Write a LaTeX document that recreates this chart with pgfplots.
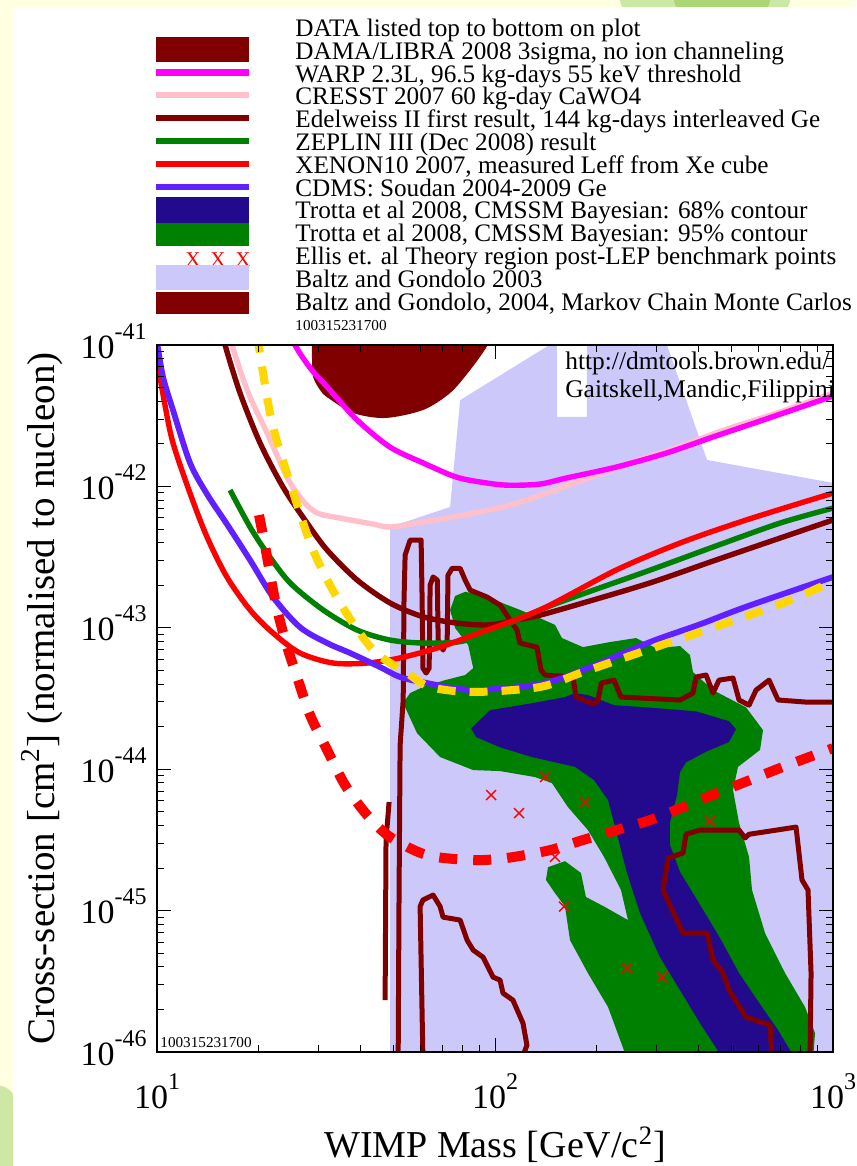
\documentclass[border=0pt]{standalone}
\usepackage{pgfplots}
\pgfplotsset{compat=1.18}
\usepackage{fontspec}
\setmainfont{Liberation Serif}
\definecolor{bgyellow}{RGB}{255,255,225}
\definecolor{bggreen}{RGB}{205,232,165}
\definecolor{bggreen2}{RGB}{170,214,115}
\definecolor{dkred}{RGB}{128,0,0}
\definecolor{warp}{RGB}{255,0,255}
\definecolor{cresst}{RGB}{255,192,203}
\definecolor{zgreen}{RGB}{0,128,0}
\definecolor{xred}{RGB}{255,0,0}
\definecolor{cdms}{RGB}{96,32,255}
\definecolor{navy68}{RGB}{35,10,140}
\definecolor{green95}{RGB}{0,128,0}
\definecolor{lav}{RGB}{205,200,250}
\definecolor{gold}{RGB}{255,215,0}
\newcommand{\tk}[1]{10\raisebox{9.5pt}{\fontsize{12}{12}\selectfont #1}}
\begin{document}
\begin{tikzpicture}
\fill[bgyellow] (0,0) rectangle (428pt,583pt);
\begin{scope}[shift={(0pt,583pt)},x=0.5pt,y=-0.5pt]
\fill[bggreen] (705,0) ellipse (85 and 30);
\fill[bggreen2] (722,0) ellipse (48 and 22);
\fill[bggreen] (0,1166) ellipse (30 and 80);
\fill[white] (13,7) rectangle (856,1166);
\end{scope}
\begin{axis}[
  at={(78.5pt,57pt)}, anchor=south west,
  scale only axis, width=338pt, height=353.5pt,
  xmode=log, ymode=log,
  xmin=10, xmax=1000, ymin=1e-46, ymax=1e-41,
  axis on top,
  axis line style={line width=1pt},
  every tick/.style={black, line width=0.5pt},
  major tick length=7pt, minor tick length=3.5pt,
  xtick={10,100,1000},
  xticklabels={\tk{1},\tk{2},\tk{3}},
  minor xtick={20,30,40,50,60,70,80,90,200,300,400,500,600,700,800,900},
  ytick={1e-46,1e-45,1e-44,1e-43,1e-42,1e-41},
  yticklabels={\tk{-46},\tk{-45},\tk{-44},\tk{-43},\tk{-42},\tk{-41}},
  minor ytick={2e-46,3e-46,4e-46,5e-46,6e-46,7e-46,8e-46,9e-46,
               2e-45,3e-45,4e-45,5e-45,6e-45,7e-45,8e-45,9e-45,
               2e-44,3e-44,4e-44,5e-44,6e-44,7e-44,8e-44,9e-44,
               2e-43,3e-43,4e-43,5e-43,6e-43,7e-43,8e-43,9e-43,
               2e-42,3e-42,4e-42,5e-42,6e-42,7e-42,8e-42,9e-42},
  ticklabel style={font=\fontsize{17}{18}\selectfont, inner sep=0pt},
  xticklabel style={anchor=base, yshift=-28pt},
  yticklabel style={anchor=base east, xshift=-5pt, yshift=-6.5pt},
  xlabel={WIMP Mass [GeV/c\textsuperscript{2}]},
  ylabel={Cross-section [cm\textsuperscript{2}] (normalised to nucleon)},
  every axis x label/.style={at={(axis description cs:0.5,0)}, anchor=base, yshift=-52.5pt, font=\fontsize{19}{20}\selectfont, inner sep=0pt},
  every axis y label/.style={at={(axis description cs:-0.1509,0.5)}, anchor=base, rotate=90, font=\fontsize{19.5}{20}\selectfont, inner sep=0pt},
  every axis plot/.append style={line join=round},
]
% Baltz and Gondolo 2003 (lavender region)
\addplot[draw=none, fill=lav] coordinates {(48.94,9e-47) (48.94,5.17e-43) (73.66,7.16e-43) (78.86,4.08e-42) (152.5,1.08e-41) (152.5,3.10e-42) (187.1,3.10e-42) (187.1,1.28e-41) (312.0,1.28e-41) (322.8,1e-41) (423.9,1.54e-42) (1000,1.06e-42) (1050,1.03e-42) (1050,9e-47)} -- cycle;
% DAMA/LIBRA
\addplot[draw=none, fill=dkred, smooth] coordinates {(28.75,1.2e-41) (28.75,7.83e-42) (28.96,5.95e-42) (30.37,4.81e-42) (31.87,4.28e-42) (38.04,3.31e-42) (47.3,3.05e-42) (61.2,3.47e-42) (73.66,4.58e-42) (84.42,6.66e-42) (94.8,9.84e-42) (96.75,1.2e-41)} -- cycle;
% Trotta 95%
\addplot[draw=none, fill=green95] coordinates {(53.5,2.94e-44) (56.09,3.46e-44) (62.12,3.88e-44) (71.2,4.27e-44) (81.59,4.64e-44) (86.2,5.19e-44) (83.3,7.56e-44) (76.22,9.97e-44) (73.66,1.34e-43) (76.22,1.68e-43) (81.59,1.80e-43) (90.37,1.71e-43) (103.5,1.52e-43) (118.6,1.34e-43) (135.9,1.17e-43) (150.5,1.05e-43) (157.8,8.47e-44) (182.1,7.31e-44) (218.9,7.94e-44) (261.3,8.47e-44) (299.4,7.19e-44) (352.7,7.44e-44) (377.5,6.42e-44) (385.3,4.87e-44) (441.6,3.63e-44) (553.0,2.74e-44) (620.9,1.89e-44) (608.3,1.37e-44) (523.6,1.04e-44) (506.0,7.13e-45) (527.2,4.18e-45) (564.4,2.40e-45) (576.0,1.40e-45) (629.4,6.94e-46) (721.3,3.62e-46) (826.6,2.08e-46) (884.9,1.36e-46) (873,9e-47) (245.7,9e-47) (216.0,2.08e-46) (188.3,3.62e-46) (166.7,6.19e-46) (161.1,1.07e-45) (150.5,1.33e-45) (141.5,1.65e-45) (143.5,2.03e-45) (161.1,2.24e-45) (179.6,1.85e-45) (185.8,1.25e-45) (210.2,1.07e-45) (247.4,8.58e-46) (235.9,1.40e-45) (210.2,2.40e-45) (188.3,3.72e-45) (164.4,5.40e-45) (147.4,7.99e-45) (131.3,8.81e-45) (103.5,9.71e-45) (86.2,9.87e-45) (68.81,1.22e-44) (58.8,1.80e-44)} -- cycle;
% Trotta 68%
\addplot[draw=none, fill=navy68] coordinates {(85.0,1.95e-44) (96.75,2.62e-44) (129.5,2.94e-44) (161.1,3.24e-44) (172.5,3.46e-44) (188.3,3.35e-44) (225.0,2.84e-44) (281.6,2.74e-44) (393.3,2.57e-44) (492.4,2.19e-44) (516.5,1.92e-44) (492.4,1.56e-44) (421.1,1.33e-44) (367.4,1.12e-44) (352.7,9.55e-45) (345.6,6.57e-45) (329.4,4.22e-45) (329.4,2.91e-45) (352.7,1.88e-45) (404.2,1.10e-45) (463.2,6.40e-46) (527.2,3.62e-46) (616.6,2.08e-46) (687.8,1.43e-46) (772.1,9e-47) (472.7,9e-47) (404.2,1.60e-46) (352.7,2.74e-46) (307.7,4.69e-46) (268.5,9.62e-46) (245.7,1.85e-45) (229.6,3.47e-45) (216.0,6.05e-45) (196.3,8.39e-45) (172.5,1.04e-44) (128.6,1.22e-44) (103.5,1.43e-44) (87.9,1.69e-44)} -- cycle;
% Baltz and Gondolo 2004 MCMC contours
\addplot[dkred, line width=2.5pt] coordinates {(51.7,9e-47) (52.0,1.19e-45) (52.39,1.48e-44) (53.5,3.09e-44) (53.8,1.57e-43) (54.21,3.27e-43) (56.09,4.18e-43) (60.45,4.18e-43) (60.87,1.57e-43) (61.2,5.19e-44) (62.55,4.79e-44) (63.85,5.19e-44) (64.28,2.01e-43) (65.6,2.29e-43) (67.5,2.18e-43) (67.9,8.20e-44) (70.2,6.97e-44) (72.2,8.20e-44) (72.6,2.36e-43) (74.7,2.64e-43) (78.86,2.64e-43) (81.59,2.18e-43) (84.42,1.85e-43) (94.8,1.65e-43) (103.5,1.45e-43) (110.7,1.14e-43) (116.2,9.65e-44) (118.6,7.81e-44) (133.1,7.31e-44) (136.8,5.03e-44) (140.6,4.64e-44) (170.2,4.49e-44) (173.7,3.24e-44) (196.3,2.89e-44) (201.7,3.09e-44) (206.3,4.07e-44) (225.0,4.27e-44) (235.9,3.24e-44) (352.7,3.09e-44) (385.3,3.46e-44) (393.3,4.49e-44) (421.1,4.64e-44) (441.6,3.46e-44) (460.0,4.27e-44) (506.0,4.42e-44) (527.2,3.09e-44) (564.4,2.84e-44) (592.0,3.63e-44) (646.8,4.27e-44) (687.8,3.09e-44) (826.6,2.99e-44) (1060,2.99e-44)};
\addplot[dkred, line width=2.5pt] coordinates {(61.2,9e-47) (60.04,1.07e-45) (61.2,1.19e-45) (65.6,1.29e-45) (68.81,1.07e-45) (70.2,9.0e-46) (78.86,8.58e-46) (82.7,6.19e-46) (86.2,5.26e-46) (92.2,4.69e-46) (98.65,3.39e-46) (103.5,3.23e-46) (105.6,2.61e-46) (113.0,2.33e-46) (121.0,1.60e-46) (124.3,1.12e-46) (120.2,9e-47)};
\addplot[dkred, line width=2.5pt] coordinates {(660.0,9e-47) (651.2,1.55e-46) (553.0,1.77e-46) (492.4,2.74e-46) (472.7,3.62e-46) (441.6,4.47e-46) (423.9,6.94e-46) (360.0,6.94e-46) (314.0,1.40e-45) (325.0,2.36e-45) (360.0,2.56e-45) (367.4,3.47e-45) (404.2,3.72e-45) (527.2,3.72e-45) (549.2,3.27e-45) (564.4,3.47e-45) (777.5,3.90e-45) (809.6,1.65e-45) (843.5,1.40e-45) (861.1,3.62e-46) (855.2,9e-47)};
\addplot[dkred, line width=2.5pt] coordinates {(48.6,5.87e-45) (47.6,3.16e-45) (47.3,2.33e-46)};
% CRESST
\addplot[cresst, line width=2.7pt, smooth] coordinates {(16.34,1.28e-41) (16.68,1e-41) (17.61,6.66e-42) (18.85,4.28e-42) (21.17,2.39e-42) (24.26,1.16e-42) (26.5,8.41e-43) (28.37,7.03e-43) (30.37,6.38e-43) (34.81,5.98e-43) (43.6,5.42e-43) (48.94,5.17e-43) (61.2,5.60e-43) (86.2,6.47e-43) (116.2,7.63e-43) (182.1,1.11e-42) (263.1,1.52e-42) (360.0,1.96e-42) (495.8,2.59e-42) (697.1,3.36e-42) (1000,4.58e-42)};
% WARP
\addplot[warp, line width=2.7pt, smooth] coordinates {(24.8,1.28e-41) (25.6,1.0e-41) (28.4,6.88e-42) (31.9,5.05e-42) (39.1,2.95e-42) (48.9,1.90e-42) (61.2,1.47e-42) (77.3,1.16e-42) (96.75,1.05e-42) (110.7,1.02e-42) (135.9,1.04e-42) (163.3,1.15e-42) (228.0,1.37e-42) (320.6,1.72e-42) (441.6,2.24e-42) (620.9,2.95e-42) (1000,4.36e-42)};
% Edelweiss II
\addplot[dkred, line width=2.7pt, smooth] coordinates {(15.57,1.28e-41) (15.9,1e-41) (17.61,4.58e-42) (20.18,2.03e-42) (23.6,9.9e-43) (27.8,5.51e-43) (31.87,3.55e-43) (39.1,2.18e-43) (48.94,1.50e-43) (61.2,1.20e-43) (77.3,1.08e-43) (96.75,1.05e-43) (116.2,1.14e-43) (135.9,1.23e-43) (182.1,1.50e-43) (287.5,2.08e-43) (450.7,3.02e-43) (711.6,4.39e-43) (1000,5.79e-43)};
% ZEPLIN III
\addplot[zgreen, line width=2.7pt, smooth] coordinates {(16.45,9.43e-43) (18.85,5.17e-43) (21.17,3.38e-43) (24.76,2.08e-43) (31.0,1.34e-43) (39.1,9.65e-44) (48.94,8.20e-44) (61.2,7.81e-44) (77.3,7.94e-44) (92.2,8.89e-44) (116.2,1.14e-43) (145.4,1.43e-43) (182.1,1.74e-43) (287.5,2.56e-43) (441.6,3.73e-43) (697.1,5.51e-43) (1000,7.03e-43)};
% XENON10
\addplot[xred, line width=2.7pt, smooth] coordinates {(10.0,7.83e-42) (10.56,3.76e-42) (11.15,2.03e-42) (12.52,8.98e-43) (14.06,4.39e-43) (16.1,2.29e-43) (18.85,1.34e-43) (22.05,9.19e-44) (26.5,6.64e-44) (33.2,5.64e-44) (41.85,5.64e-44) (52.39,6.13e-44) (68.81,7.31e-44) (86.2,8.89e-44) (135.9,1.34e-43) (228.0,2.56e-43) (352.7,3.98e-43) (553.0,5.79e-43) (1000,8.98e-43)};
% CDMS
\addplot[cdms, line width=2.9pt, smooth] coordinates {(10.0,1.05e-41) (10.42,5.95e-42) (11.15,3.47e-42) (12.52,1.47e-42) (14.06,8.83e-43) (16.1,5.42e-43) (18.85,3.02e-43) (22.05,1.65e-43) (26.5,1.01e-43) (31.87,7.81e-44) (37.27,6.64e-44) (45.72,5.28e-44) (52.39,4.49e-44) (62.98,4.07e-44) (86.2,3.63e-44) (135.9,4.01e-44) (182.1,5.03e-44) (287.5,7.94e-44) (404.2,1.06e-43) (553.0,1.41e-43) (1000,2.29e-43)};
% yellow dashed projection
\addplot[gold, line width=4pt, dash pattern=on 9pt off 7pt, smooth] coordinates {(19.77,1.18e-41) (20.88,5.21e-42) (22.05,2.63e-42) (24.76,1.06e-42) (28.96,3.55e-43) (34.81,1.50e-43) (43.6,6.97e-44) (54.96,4.79e-44) (64.28,3.82e-44) (86.2,3.52e-44) (135.9,3.82e-44) (182.1,4.87e-44) (287.5,7.09e-44) (404.2,9.34e-44) (711.6,1.50e-43) (1000,2.14e-43)};
% red dashed projection
\addplot[xred, line width=5pt, dash pattern=on 9pt off 8pt, smooth] coordinates {(20.04,6.28e-43) (21.17,3.17e-43) (22.35,1.57e-43) (23.93,8.20e-44) (25.97,4.49e-44) (28.37,2.42e-44) (31.87,1.37e-44) (36.02,7.73e-45) (41.85,4.74e-45) (48.94,3.32e-45) (62.98,2.47e-45) (86.2,2.28e-45) (108.5,2.36e-45) (145.4,2.68e-45) (182.1,3.16e-45) (229.6,3.72e-45) (287.5,4.37e-45) (360.0,5.40e-45) (453.8,6.79e-45) (568.2,8.39e-45) (711.6,1.04e-44) (1000,1.41e-44)};
% Ellis et al benchmark points
\addplot[only marks, mark=x, mark size=3.5pt, xred, mark options={line width=0.7pt}] coordinates {(97.4,6.57e-45) (117.8,4.90e-45) (140.6,8.81e-45) (184.6,5.87e-45) (150.5,2.40e-45) (160.0,1.07e-45) (245.7,3.92e-46) (312.0,3.39e-46) (432.7,4.30e-45)};
\end{axis}
\begin{scope}[shift={(0pt,583pt)},x=0.5pt,y=-0.5pt]
% legend swatches
\fill[dkred] (156,37) rectangle (249,62);
\fill[warp] (156,69) rectangle (249,76);
\fill[cresst] (156,92) rectangle (249,98);
\fill[dkred] (156,115) rectangle (249,121);
\fill[zgreen] (156,138) rectangle (249,144);
\fill[xred] (156,161) rectangle (249,167);
\fill[cdms] (156,184) rectangle (249,190);
\fill[navy68] (156,197) rectangle (249,223);
\fill[green95] (156,223) rectangle (249,246);
\foreach \xx in {193,218,243} \node[anchor=base, inner sep=0pt, text=xred, font=\fontsize{10.5}{11}\selectfont] at (\xx,267) {X};
\fill[lav] (156,265) rectangle (249,290);
\fill[dkred] (156,292) rectangle (249,314);
% legend text
\begin{scope}[every node/.style={anchor=base west, inner sep=0pt, font=\fontsize{12.6}{13}\selectfont}]
\node at (295,36.5) {DATA listed top to bottom on plot};
\node at (295,59.3) {DAMA/LIBRA 2008 3sigma, no ion channeling};
\node at (295,82.1) {WARP 2.3L, 96.5 kg-days 55 keV threshold};
\node at (295,104.9) {CRESST 2007 60 kg-day CaWO4};
\node at (295,127.7) {Edelweiss II first result, 144 kg-days interleaved Ge};
\node at (295,150.5) {ZEPLIN III (Dec 2008) result};
\node at (295,173.3) {XENON10 2007, measured Leff from Xe cube};
\node at (295,196.1) {CDMS: Soudan 2004-2009 Ge};
\node at (295,218.9) {Trotta et al 2008, CMSSM Bayesian: 68\% contour};
\node at (295,241.7) {Trotta et al 2008, CMSSM Bayesian: 95\% contour};
\node at (295,264.5) {Ellis et. al Theory region post-LEP benchmark points};
\node at (295,287.3) {Baltz and Gondolo 2003};
\node at (295,310.1) {Baltz and Gondolo, 2004, Markov Chain Monte Carlos};
\end{scope}
\node[anchor=base west, inner sep=0pt, font=\fontsize{7.6}{8}\selectfont] at (295,331) {100315231700};
\node[anchor=base west, inner sep=0pt, font=\fontsize{7.6}{8}\selectfont] at (160,1048) {100315231700};
\begin{scope}
\clip (157,345) rectangle (833,1052);
\node[anchor=base west, inner sep=0pt, font=\fontsize{12.7}{13}\selectfont] at (565,370) {http://dmtools.brown.edu/};
\node[anchor=base west, inner sep=0pt, font=\fontsize{12.7}{13}\selectfont] at (565,398) {Gaitskell,Mandic,Filippini};
\end{scope}
\end{scope}
\pgfresetboundingbox
\path[use as bounding box] (0,0) rectangle (428pt,583pt);
\end{tikzpicture}
\end{document}
